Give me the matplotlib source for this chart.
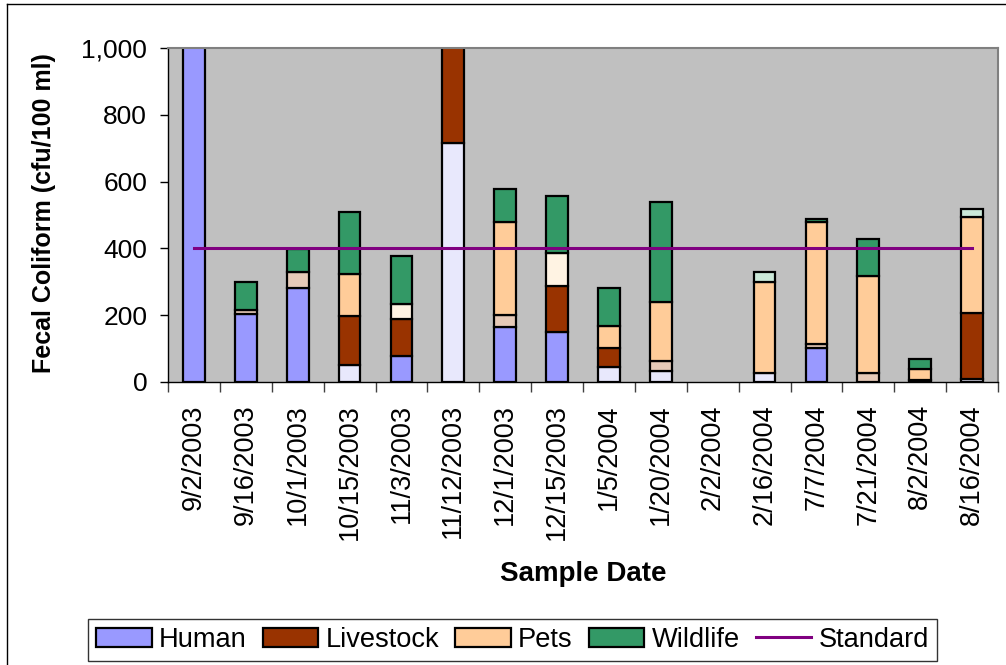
import numpy as np
import matplotlib
matplotlib.use("Agg")
import matplotlib.pyplot as plt
from matplotlib.lines import Line2D
from matplotlib.patches import Patch
from matplotlib.ticker import FuncFormatter, FixedLocator

plt.rcParams['font.family'] = ['Liberation Sans', 'DejaVu Sans']

# Sample dates and source-tracking results (cfu/100 ml)
dates = ['9/2/2003', '9/16/2003', '10/1/2003', '10/15/2003', '11/3/2003',
         '11/12/2003', '12/1/2003', '12/15/2003', '1/5/2004', '1/20/2004',
         '2/2/2004', '2/16/2004', '7/7/2004', '7/21/2004', '8/2/2004',
         '8/16/2004']

human = [1200, 205, 280, 0, 78, 0, 166, 149, 0, 0, 0, 0, 101, 0, 0, 0]
human_tentative = [0, 0, 0, 50, 0, 717, 0, 0, 46, 32, 0, 26, 0, 0, 7, 8]
livestock = [0, 0, 0, 148, 111, 500, 0, 139, 57, 0, 0, 0, 0, 0, 0, 198]
livestock_tentative = [0, 10, 48, 0, 0, 0, 35, 0, 0, 31, 0, 0, 12, 26, 0, 0]
pets = [0, 0, 0, 124, 0, 0, 279, 0, 65, 177, 0, 274, 365, 292, 32, 289]
pets_tentative = [0, 0, 0, 0, 44, 0, 0, 97, 0, 0, 0, 0, 0, 0, 0, 0]
wildlife = [0, 85, 70, 186, 145, 0, 98, 173, 113, 298, 0, 0, 10, 109, 30, 0]
wildlife_tentative = [0, 0, 0, 0, 0, 0, 0, 0, 0, 0, 0, 28, 0, 0, 0, 22]

standard = 400
y_ticks = [0, 200, 400, 600, 800, 1000]

series = [
    ('Human', human, '#9999FF'),
    (None, human_tentative, '#E8E8FC'),
    ('Livestock', livestock, '#993300'),
    (None, livestock_tentative, '#E6CAB8'),
    ('Pets', pets, '#FFCC99'),
    (None, pets_tentative, '#FFF3E3'),
    ('Wildlife', wildlife, '#339966'),
    (None, wildlife_tentative, '#CBE8D8'),
]

W, H = 1006, 665
fig = plt.figure(figsize=(W / 100, H / 100), dpi=100)
ax = fig.add_axes([168 / W, 1 - 382 / H, 830 / W, 334 / H])
ax.set_facecolor('#C0C0C0')

x = np.arange(len(dates))
bottom = np.zeros(len(dates))
handles = []
for label, vals, color in series:
    v = np.array(vals, dtype=float)
    m = v > 0
    ax.bar(x[m], v[m], bottom=bottom[m], width=0.42, color=color,
           edgecolor='black', linewidth=1.6, zorder=2)
    bottom += v
    if label:
        handles.append(Patch(facecolor=color, edgecolor='black',
                             linewidth=1.6, label=label))

ax.plot([x[0], x[-1]], [standard, standard], color='#800080',
        linewidth=2.2, zorder=3)
handles.append(Line2D([], [], color='#800080', linewidth=2.2,
                      label='Standard'))

ax.set_xlim(-0.5, len(dates) - 0.5)
ax.set_ylim(0, 1000)

ax.yaxis.set_major_locator(FixedLocator(y_ticks))
ax.yaxis.set_major_formatter(FuncFormatter(lambda v, p: f'{v:,.0f}'))
ax.tick_params(axis='y', direction='out', length=6, width=1,
               labelsize=19, pad=9)

ax.set_xticks(x)
ax.set_xticklabels(dates, rotation=90, va='top', ha='center')
ax.set_xticks(np.arange(len(dates) + 1) - 0.5, minor=True)
ax.tick_params(axis='x', which='major', length=0, labelsize=19.5, pad=16)
ax.tick_params(axis='x', which='minor', direction='out', length=7,
               width=1, color='#404040')

for s in ('top', 'right'):
    ax.spines[s].set_color('#808080')
    ax.spines[s].set_linewidth(1.5)
for s in ('left', 'bottom'):
    ax.spines[s].set_color('black')
    ax.spines[s].set_linewidth(1)

fig.text(44 / W, 1 - 213 / H, 'Fecal Coliform (cfu/100 ml)', rotation=90,
         ha='center', va='center', fontsize=18, fontweight='bold')
fig.text(583 / W, 1 - 574 / H, 'Sample Date', ha='center', va='center',
         fontsize=20, fontweight='bold')

leg = fig.legend(handles=handles, loc='center',
                 bbox_to_anchor=(512.5 / W, 1 - 640 / H), ncol=5,
                 fontsize=19.6, frameon=True, fancybox=False,
                 handlelength=2.04, handleheight=0.7, handletextpad=0.26,
                 columnspacing=0.6, borderpad=0.3, borderaxespad=0)
leg.get_frame().set_edgecolor('black')
leg.get_frame().set_linewidth(1)

# chart-area border along the left and top edges
fig.add_artist(Line2D([6.5 / W, 6.5 / W], [0, 1 - 4 / H], color='black',
                      linewidth=1, transform=fig.transFigure))
fig.add_artist(Line2D([6.5 / W, 1], [1 - 4 / H, 1 - 4 / H], color='black',
                      linewidth=1, transform=fig.transFigure))

fig.savefig('out.png', dpi=100)
